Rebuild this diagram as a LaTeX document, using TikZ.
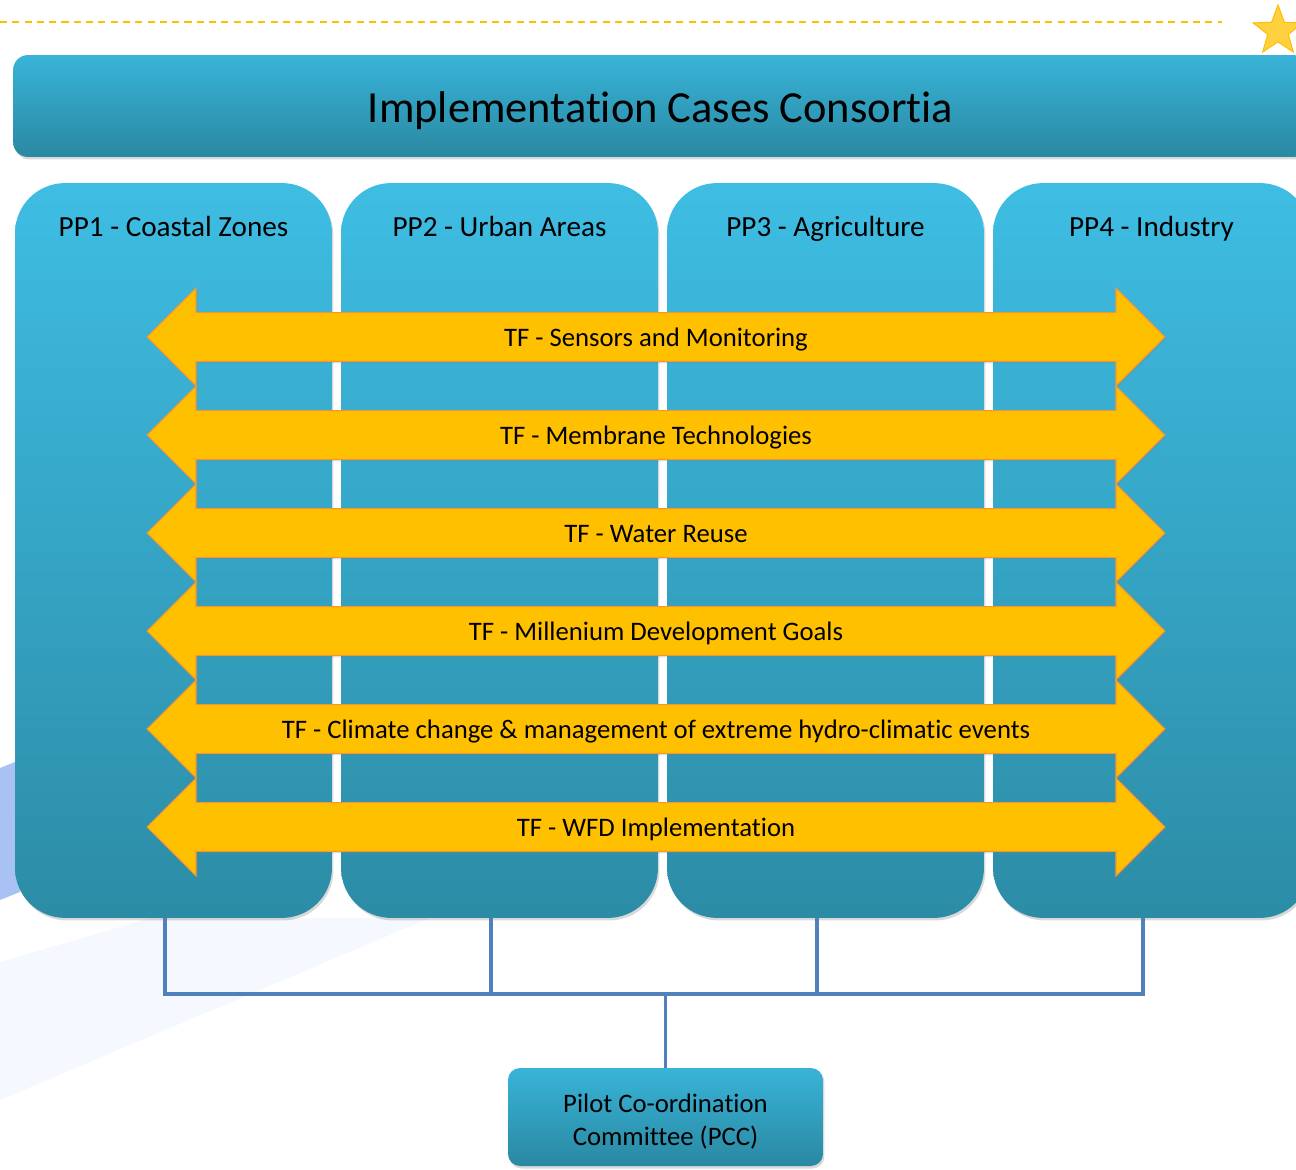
\documentclass[tikz,border=0pt]{standalone}
\usepackage{fontspec}
\setmainfont{Carlito}[Ligatures=NoCommon]
\usetikzlibrary{shapes.arrows,shapes.geometric,shadows}
\definecolor{boxtop}{RGB}{62,189,227}
\definecolor{boxbot}{RGB}{44,140,166}
\definecolor{bartop}{RGB}{56,180,216}
\definecolor{barbot}{RGB}{42,136,162}
\definecolor{tfyellow}{RGB}{255,192,0}
\definecolor{tfedge}{RGB}{246,150,50}
\definecolor{linkblue}{RGB}{79,129,189}
\definecolor{swoosh}{RGB}{168,194,244}
\definecolor{swooshlight}{RGB}{245,248,254}

\begin{document}
\begin{tikzpicture}[x=0.02cm,y=-0.02cm,
  softshadow/.style={drop shadow={opacity=0.3,shadow xshift=0.03cm,shadow yshift=-0.05cm}},
  colbox/.style={rectangle,rounded corners=1cm,minimum width=6.34cm,minimum height=14.7cm,
    top color=boxtop,bottom color=boxbot,softshadow},
  coltext/.style={font=\fontsize{16.6}{18}\selectfont,text height=11.6pt,text depth=0.4pt},
  tfarrow/.style={double arrow,double arrow head extend=0.49cm,minimum height=20.36cm,
    fill=tfyellow,draw=tfedge,line width=0.6pt,text height=11.6pt,text depth=0.4pt,
    inner ysep=7.6pt,font=\fontsize{15.2}{17}\selectfont,
    drop shadow={opacity=0.25,shadow xshift=0.03cm,shadow yshift=-0.04cm}},
  link/.style={draw=linkblue,line width=2.2pt}]
\useasboundingbox (0,0) rectangle (1296,1170);
\clip (0,0) rectangle (1296,1170);

% faint swoosh behind the pilots
\fill[swooshlight] (0,962) -- (150,918) -- (430,918) -- (0,1100) -- cycle;
\fill[swoosh] (0,768) -- (20,760) -- (20,892) -- (0,900) -- cycle;

\draw[tfyellow,line width=1.2pt,dash pattern=on 4pt off 3pt] (0,22) -- (1222,22);
\node[star,star points=5,star point ratio=2.4,minimum size=1.04cm,inner sep=0pt,
  fill=tfyellow!75!white,draw=tfyellow,line width=0.6pt] (star) at (1278,31) {};

\node[rectangle,rounded corners=0.3cm,minimum width=25.9cm,minimum height=2.04cm,
  top color=bartop,bottom color=barbot,softshadow,font=\fontsize{25.3}{28}\selectfont,
  text height=19.4pt,text depth=1pt]
  (title) at (660.5,106) {Implementation Cases Consortia};

% pilot columns
\node[colbox] (pp1) at (173.5,550.5) {};
\node[colbox] (pp2) at (499.5,550.5) {};
\node[colbox] (pp3) at (825.5,550.5) {};
\node[colbox] (pp4) at (1151.5,550.5) {};
\node[coltext] (pp1-label) at ([yshift=-0.88cm]pp1.north) {PP1 - Coastal Zones};
\node[coltext] (pp2-label) at ([yshift=-0.88cm]pp2.north) {PP2 - Urban Areas};
\node[coltext] (pp3-label) at ([yshift=-0.88cm]pp3.north) {PP3 - Agriculture};
\node[coltext] (pp4-label) at ([yshift=-0.88cm]pp4.north) {PP4 - Industry};

% task forces
\node[tfarrow] (tf1) at (656,337) {TF - Sensors and Monitoring};
\node[tfarrow] (tf2) at (656,435) {TF - Membrane Technologies};
\node[tfarrow] (tf3) at (656,533) {TF - Water Reuse};
\node[tfarrow] (tf4) at (656,631) {TF - Millenium Development Goals};
\node[tfarrow] (tf5) at (656,729) {TF - Climate change \& management of extreme hydro-climatic events};
\node[tfarrow] (tf6) at (656,827) {TF - WFD Implementation};

\node[rectangle,rounded corners=0.24cm,minimum width=6.3cm,minimum height=1.96cm,
  top color=bartop,bottom color=barbot,softshadow,align=center,
  text height=34.5pt,font=\fontsize{15.2}{18.7}\selectfont] (pcc) at (665.5,1117)
  {Pilot Co-ordination\\Committee (PCC)};

\coordinate (bus) at (pcc.north |- 0,994);
\foreach \i in {1,...,4}
  \draw[link] ([xshift=-0.17cm]pp\i.south) |- (bus);
\draw[link] (bus) -- (pcc.north);
\end{tikzpicture}
\end{document}
